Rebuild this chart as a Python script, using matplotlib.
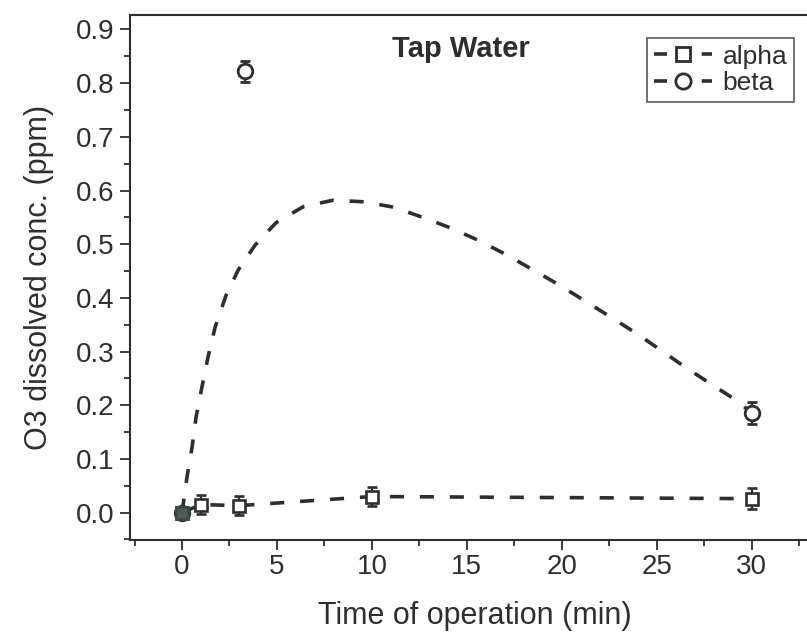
import numpy as np
import matplotlib
matplotlib.use("Agg")
import matplotlib.pyplot as plt
from matplotlib.lines import Line2D
from matplotlib.ticker import MultipleLocator, FormatStrFormatter

plt.rcParams['font.family'] = ['Liberation Sans', 'DejaVu Sans']

# measured points
alpha_t = [0, 1, 3, 10, 30]
alpha_y = [0.0, 0.015, 0.013, 0.030, 0.026]
alpha_err = [0.010, 0.018, 0.018, 0.018, 0.020]

beta_t = [0, 3.3, 30]
beta_y = [0.0, 0.822, 0.186]
beta_err = [0.008, 0.020, 0.020]

# dashed fit curve for beta
fit_t = [0, 0.26, 0.53, 0.74, 1.05, 1.37, 1.74, 2.32, 2.96, 3.84, 4.95,
         6.39, 7.96, 9.58, 11.14, 12.6, 14.1, 15.56, 17.0, 18.4, 19.77,
         21.1, 22.5, 23.84, 25.2, 26.5, 27.84, 29.2, 30]
fit_y = [0, 0.066, 0.122, 0.178, 0.234, 0.29, 0.345, 0.405, 0.452, 0.498,
         0.540, 0.570, 0.582, 0.579, 0.569, 0.551, 0.531, 0.508, 0.482,
         0.454, 0.426, 0.397, 0.366, 0.336, 0.303, 0.271, 0.240, 0.209, 0.186]

ink = '#2e2e2e'
lw = 2.6
dash = (3.9, 4.4)

fig = plt.figure(figsize=(8.07, 6.33), dpi=100)
ax = fig.add_axes([130 / 807, 93 / 633, 690 / 807, 525 / 633])

# beta fit curve
ax.plot(fit_t, fit_y, color=ink, lw=lw, dashes=dash, zorder=2)

# alpha: dashed line joining points
ax.errorbar(alpha_t, alpha_y, yerr=alpha_err, color=ink, lw=lw, dashes=dash,
            marker='s', ms=9, mfc='white', mec=ink, mew=1.9,
            ecolor=ink, elinewidth=1.6, capsize=3.4, capthick=1.6, zorder=3)
ax.plot(alpha_t[:1], alpha_y[:1], 's', ms=9, mfc='#4f5c57', mec='#3d4a45',
        mew=1.9, zorder=5)

# beta markers
ax.errorbar(beta_t, beta_y, yerr=beta_err, color=ink, ls='none',
            marker='o', ms=10.5, mfc='white', mec=ink, mew=2.0,
            ecolor=ink, elinewidth=1.6, capsize=3.4, capthick=1.6, zorder=4)

ax.set_xlim(-2.74, 33.6)
ax.set_ylim(-0.051, 0.927)

ax.xaxis.set_major_locator(MultipleLocator(5))
ax.xaxis.set_minor_locator(MultipleLocator(2.5))
ax.yaxis.set_major_locator(MultipleLocator(0.1))
ax.yaxis.set_minor_locator(MultipleLocator(0.05))
ax.yaxis.set_major_formatter(FormatStrFormatter('%.1f'))

ax.tick_params(which='both', direction='out', colors=ink, labelcolor=ink,
               top=False, right=False, width=1.3)
ax.tick_params(which='major', length=7, labelsize=20)
ax.tick_params(axis='x', which='major', pad=3)
ax.tick_params(axis='y', which='major', pad=4)
ax.tick_params(which='minor', length=4)
for side in ax.spines.values():
    side.set_color(ink)
    side.set_linewidth(1.5)

ax.set_xlabel('Time of operation (min)', fontsize=22, color=ink, labelpad=15)
ax.set_ylabel('O3 dissolved conc. (ppm)', fontsize=22, color=ink, labelpad=16)

ax.text(0.479, 0.935, 'Tap Water', transform=ax.transAxes, fontsize=21,
        fontweight='bold', color=ink, ha='center', va='center')

handles = [
    Line2D([], [], color=ink, lw=lw, dashes=(3.6, 9.6), marker='s', ms=10,
           mfc='white', mec=ink, mew=2.0),
    Line2D([], [], color=ink, lw=lw, dashes=(3.6, 9.6), marker='o', ms=11,
           mfc='white', mec=ink, mew=2.0),
]
leg = fig.legend(handles, ['alpha', 'beta'], loc='upper left',
                 bbox_to_anchor=(647 / 807, 1 - 38 / 633), fontsize=19,
                 frameon=True, fancybox=False, handlelength=2.2,
                 handletextpad=0.42, borderpad=0.25, labelspacing=0.1,
                 borderaxespad=0.0)
leg.get_frame().set_edgecolor(ink)
leg.get_frame().set_linewidth(1.2)
for txt in leg.get_texts():
    txt.set_color(ink)

fig.savefig('out.png', dpi=100)
